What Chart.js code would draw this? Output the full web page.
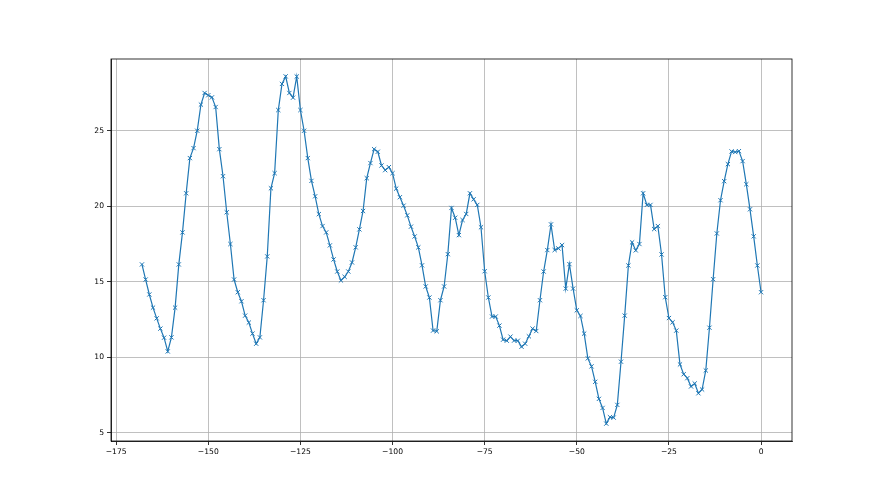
<!DOCTYPE html>
<html>
<head>
<meta charset="utf-8">
<script src="https://cdn.jsdelivr.net/npm/chart.js@4.4.0/dist/chart.umd.min.js"></script>
<style>
html, body { margin: 0; padding: 0; background: #fff; }
#wrap { width: 880px; height: 495px; }
</style>
</head>
<body>
<div id="wrap"><canvas id="chart" width="880" height="495"></canvas></div>
<script>
// readings, oldest first; last one sits at x = 0
const readings = [
    16.15, 15.15, 14.16, 13.29, 12.58, 11.90, 11.30, 10.39, 11.32, 13.29,
    16.15, 18.27, 20.86, 23.19, 23.85, 25.00, 26.73, 27.50, 27.35, 27.21,
    26.57, 23.78, 21.99, 19.60, 17.50, 15.15, 14.31, 13.71, 12.76, 12.30,
    11.57, 10.90, 11.32, 13.78, 16.68, 21.19, 22.19, 26.37, 28.10, 28.60,
    27.50, 27.19, 28.59, 26.37, 25.00, 23.19, 21.68, 20.66, 19.48, 18.69,
    18.27, 17.41, 16.48, 15.68, 15.09, 15.33, 15.68, 16.28, 17.28, 18.47,
    19.69, 21.86, 22.86, 23.78, 23.61, 22.70, 22.39, 22.59, 22.19, 21.17,
    20.60, 20.04, 19.40, 18.65, 18.00, 17.28, 16.09, 14.69, 13.96, 11.77,
    11.72, 13.78, 14.69, 16.83, 19.89, 19.24, 18.09, 19.09, 19.49, 20.86,
    20.46, 20.09, 18.61, 15.70, 13.96, 12.70, 12.70, 12.10, 11.17, 11.10,
    11.37, 11.11, 11.10, 10.70, 10.90, 11.39, 11.90, 11.74, 13.78, 15.68,
    17.10, 18.80, 17.10, 17.21, 17.43, 14.55, 16.17, 14.55, 13.11, 12.74,
    11.57, 9.93, 9.40, 8.38, 7.25, 6.65, 5.61, 6.04, 6.01, 6.85,
    9.71, 12.76, 16.08, 17.61, 17.08, 17.50, 20.86, 20.09, 20.09, 18.49,
    18.69, 16.81, 13.98, 12.60, 12.32, 11.77, 9.53, 8.88, 8.62, 8.07,
    8.27, 7.62, 7.87, 9.13, 11.96, 15.17, 18.20, 20.40, 21.66, 22.79,
    23.63, 23.59, 23.65, 22.99, 21.46, 19.80, 18.01, 16.08, 14.31
]
const xTicks = [-175, -150, -125, -100, -75, -50, -25, 0]
const yTicks = [5, 10, 15, 20, 25]

const lineColor = "#1f77b4"
const tickFont = { family: "DejaVu Sans", size: 7.6 }

// x offset of each reading, counting back from 0
const points = readings.map((v, i) => ({ x: i - (readings.length - 1), y: v }))

// matplotlib-ish 5% margins
const xMin = points[0].x, xMax = 0
const yMin = Math.min(...readings), yMax = Math.max(...readings)
const xPad = (xMax - xMin) * 0.05, yPad = (yMax - yMin) * 0.05

const fmt = v => String(v).replace("-", "\u2212")

// top and right spines
const frame = {
    id: "frame",
    afterDraw(chart) {
        const { ctx, chartArea: a } = chart
        ctx.save()
        ctx.strokeStyle = "#000"
        ctx.lineWidth = 0.8
        ctx.strokeRect(a.left, a.top, a.right - a.left, a.bottom - a.top)
        ctx.restore()
    }
}

new Chart(document.getElementById("chart"), {
    type: "line",
    data: {
        datasets: [
            {
                data: points,
                borderColor: lineColor,
                borderWidth: 1.2,
                pointStyle: "crossRot",
                pointRadius: 3,
                pointBorderWidth: 1,
                pointBorderColor: lineColor,
                pointBackgroundColor: lineColor,
                tension: 0
            }
        ]
    },
    options: {
        responsive: false,
        animation: false,
        devicePixelRatio: 1,
        layout: { padding: { top: 59, right: 88, bottom: 0, left: 0 } },
        plugins: { legend: { display: false }, tooltip: { enabled: false } },
        scales: {
            x: {
                type: "linear",
                min: xMin - xPad,
                max: xMax + xPad,
                afterBuildTicks: s => { s.ticks = xTicks.map(v => ({ value: v })) },
                afterFit: s => { s.height = 54 },
                grid: { color: "#b0b0b0", lineWidth: 0.8, tickColor: "#000", tickLength: 4 },
                border: { color: "#000", width: 0.8 },
                ticks: { color: "#000", font: tickFont, padding: 2, maxRotation: 0, callback: fmt }
            },
            y: {
                type: "linear",
                min: yMin - yPad,
                max: yMax + yPad,
                afterBuildTicks: s => { s.ticks = yTicks.map(v => ({ value: v })) },
                afterFit: s => { s.width = 111 },
                grid: { color: "#b0b0b0", lineWidth: 0.8, tickColor: "#000", tickLength: 4 },
                border: { color: "#000", width: 0.8 },
                ticks: { color: "#000", font: tickFont, padding: 3, callback: fmt }
            }
        }
    },
    plugins: [frame]
})
</script>
</body>
</html>
